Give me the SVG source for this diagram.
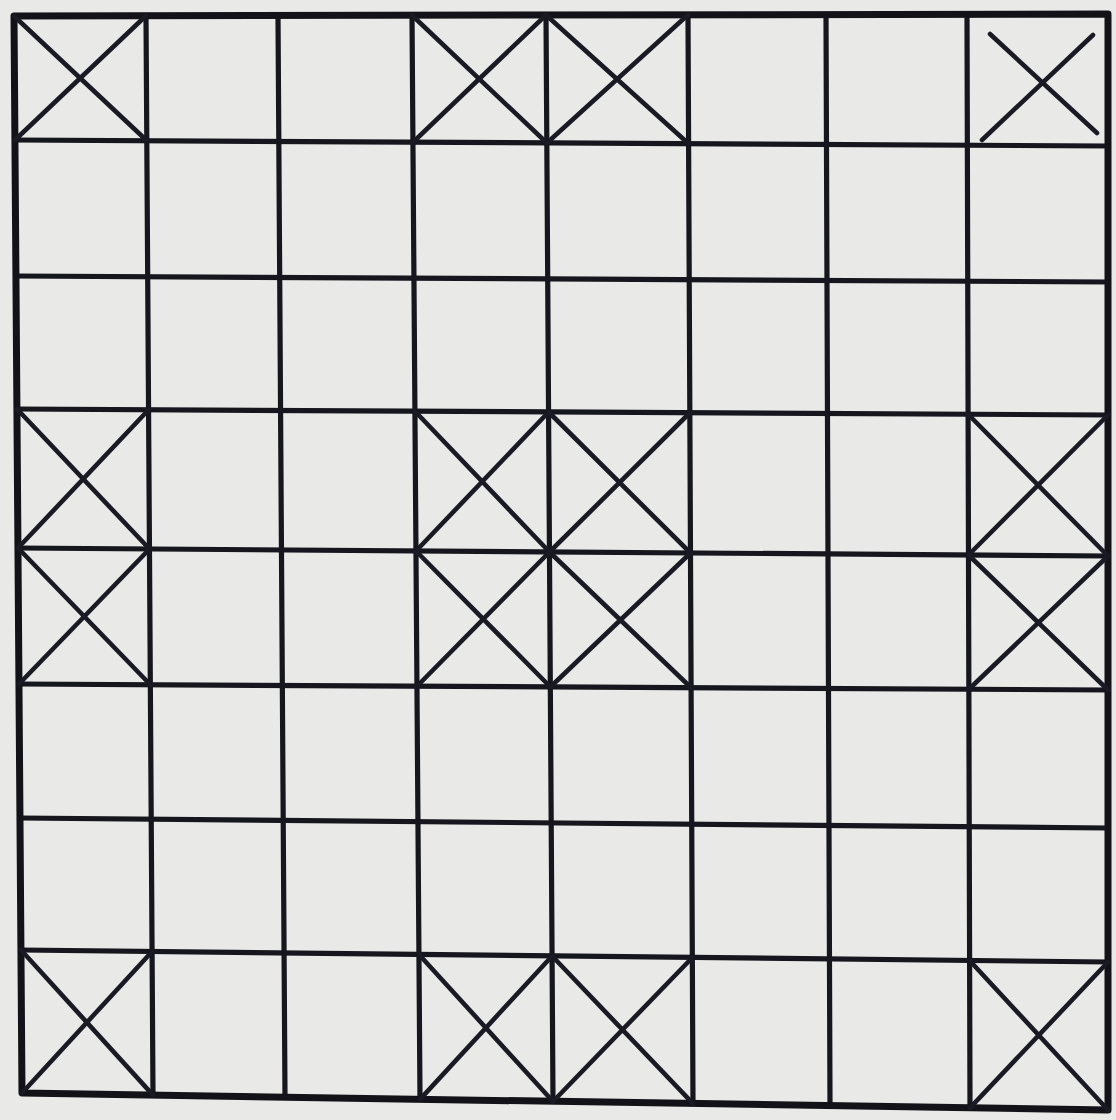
<svg xmlns="http://www.w3.org/2000/svg" width="1116" height="1120" viewBox="0 0 1116 1120">
<style>
.g{stroke:#16161e;stroke-width:5.2;stroke-linecap:round;fill:none}
.b{stroke:#121218;stroke-width:7;stroke-linejoin:round;fill:none}
.x{stroke:#1a1a24;stroke-width:4.6;stroke-linecap:round;fill:none}
</style>
<rect width="1116" height="1120" fill="#e9e9e7"/>
<g id="grid-lines">
<line class="g" x1="146" y1="16" x2="153" y2="1095"/>
<line class="g" x1="278" y1="15.5" x2="285" y2="1097"/>
<line class="g" x1="412" y1="15" x2="420" y2="1099"/>
<line class="g" x1="546" y1="15" x2="553" y2="1101.5"/>
<line class="g" x1="688" y1="14.75" x2="693" y2="1103.6"/>
<line class="g" x1="826" y1="14.5" x2="830" y2="1105.75"/>
<line class="g" x1="967" y1="14.25" x2="970" y2="1108"/>
<line class="g" x1="15" y1="140" x2="1108" y2="146"/>
<line class="g" x1="16" y1="276" x2="1108" y2="282"/>
<line class="g" x1="17" y1="409" x2="1108" y2="415"/>
<line class="g" x1="18" y1="548" x2="1108" y2="556"/>
<line class="g" x1="19" y1="684" x2="1108" y2="690"/>
<line class="g" x1="20" y1="818" x2="1108" y2="828"/>
<line class="g" x1="21" y1="950" x2="1108" y2="962"/>
<polygon class="b" points="14,16 1108,14 1108,1110 22,1093"/>
</g>
<g id="crosses">
<!-- row 0 -->
<path class="x" d="M14,16 L146.9,140.75 M146,15.75 L15,140"/>
<path class="x" d="M412,15.25 L546.9,143 M546,15 L413,142.25"/>
<path class="x" d="M546,15 L688.6,143.75 M688,14.75 L546.9,143"/>
<path class="x" d="M990,34 L1097,133 M1093,35 L982,140"/>
<!-- row 3 -->
<path class="x" d="M17,409 L149.5,549 M148.6,409.75 L18,548"/>
<path class="x" d="M415,411.25 L549.5,552 M548.6,412 L416,551"/>
<path class="x" d="M548.6,412 L690.5,553 M689.9,412.75 L549.5,552"/>
<path class="x" d="M968.1,414.25 L1108,556 M1108,415 L968.5,555"/>
<!-- row 4 -->
<path class="x" d="M18,548 L150.4,684.75 M149.5,549 L19,684"/>
<path class="x" d="M416,551 L550.4,687 M549.5,552 L417,686.25"/>
<path class="x" d="M549.5,552 L691.1,687.75 M690.5,553 L550.4,687"/>
<path class="x" d="M968.5,555 L1108,690 M1108,556 L968.9,689.25"/>
<!-- row 7 -->
<path class="x" d="M21,950 L153,1095.1 M152.1,951.5 L22,1093"/>
<path class="x" d="M419,954.5 L553,1101.5 M552.1,956 L420,1099.4"/>
<path class="x" d="M552.1,956 L693,1103.6 M692.4,957.5 L553,1101.5"/>
<path class="x" d="M969.6,960.5 L1108,1110 M1108,962 L970,1107.9"/>
</g>
</svg>
